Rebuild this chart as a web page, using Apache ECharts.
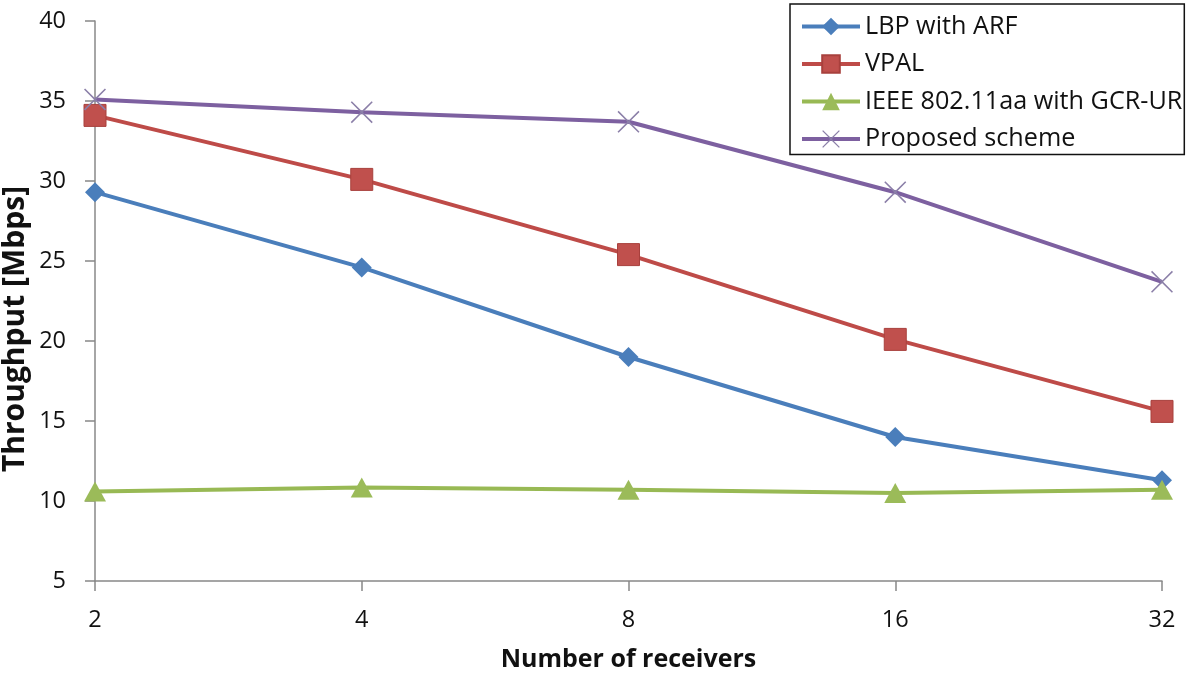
<!DOCTYPE html>
<html><head><meta charset="utf-8">
<script src="https://cdn.jsdelivr.net/npm/echarts@6/dist/echarts.min.js"></script>
<style>html,body{margin:0;padding:0;background:#fff}#c{width:1200px;height:677px}</style>
</head><body><div id="c"></div>
<script>
const categories = ['2','4','8','16','32'];
const lbpArf = [29.3, 24.6, 19.0, 14.0, 11.3];
const vpal = [34.1, 30.1, 25.4, 20.1, 15.6];
const ieee = [10.6, 10.85, 10.7, 10.5, 10.7];
const proposed = [35.1, 34.3, 33.7, 29.3, 23.7];
const yTicks = [5, 10, 15, 20, 25, 30, 35, 40];

const crossPath = 'path://M0,1L1,0L10,9L19,0L20,1L11,10L20,19L19,20L10,11L1,20L0,19L9,10Z';
const font = '"Open Sans", "Noto Sans", sans-serif';

const chart = echarts.init(document.getElementById('c'));
chart.setOption({
  animation: false,
  textStyle: {fontFamily: font},
  grid: {left: 95, right: 38, top: 21, bottom: 94},
  graphic: [{
    type: 'text', x: 15, y: 329, rotation: Math.PI / 2,
    style: {text: 'Throughput [Mbps]', font: 'bold 30px ' + font, fill: '#111',
            align: 'center', verticalAlign: 'middle'}
  }],
  legend: {
    orient: 'vertical', left: 790, top: 4,
    borderColor: '#111', borderWidth: 1.5,
    padding: [10, 2, 3, 10],
    itemWidth: 58, itemHeight: 22, itemGap: 12.5,
    lineStyle: {width: 4},
    textStyle: {fontSize: 25.2, lineHeight: 22, color: '#111', fontFamily: font},
    data: ['LBP with ARF', 'VPAL', 'IEEE 802.11aa with GCR-UR', 'Proposed scheme']
  },
  xAxis: {
    type: 'category', data: categories, boundaryGap: false,
    name: 'Number of receivers', nameLocation: 'middle', nameGap: 66,
    nameTextStyle: {fontSize: 25, fontWeight: 'bold', color: '#111', fontFamily: font},
    axisLine: {lineStyle: {color: '#888', width: 1.5}},
    axisTick: {show: true, length: 10, lineStyle: {color: '#888', width: 1.5}},
    axisLabel: {fontSize: 23.5, color: '#111', margin: 27, fontFamily: font},
    splitLine: {show: false}
  },
  yAxis: {
    type: 'value', min: yTicks[0], max: yTicks[yTicks.length - 1], interval: 5,
    axisLine: {show: true, lineStyle: {color: '#888', width: 1.5}},
    axisTick: {show: true, length: 10, lineStyle: {color: '#888', width: 1.5}},
    axisLabel: {fontSize: 23.5, color: '#111', margin: 29, fontFamily: font},
    splitLine: {show: false}
  },
  series: [
    {name: 'LBP with ARF', type: 'line', data: lbpArf, symbol: 'diamond', symbolSize: 20,
     lineStyle: {color: '#4A7EBB', width: 4}, itemStyle: {color: '#4A7EBB'}},
    {name: 'VPAL', type: 'line', data: vpal, symbol: 'rect', symbolSize: 22,
     lineStyle: {color: '#BE4B48', width: 4}, itemStyle: {color: '#C0504D', borderColor: '#A8403D', borderWidth: 1}},
    {name: 'IEEE 802.11aa with GCR-UR', type: 'line', data: ieee, symbol: 'triangle', symbolSize: [22, 20],
     lineStyle: {color: '#98B954', width: 4}, itemStyle: {color: '#9BBB59'}},
    {name: 'Proposed scheme', type: 'line', data: proposed, symbol: crossPath, symbolSize: 22,
     lineStyle: {color: '#7D60A0', width: 4}, itemStyle: {color: '#8B7FA8'}, z: 3}
  ]
});
</script></body></html>
